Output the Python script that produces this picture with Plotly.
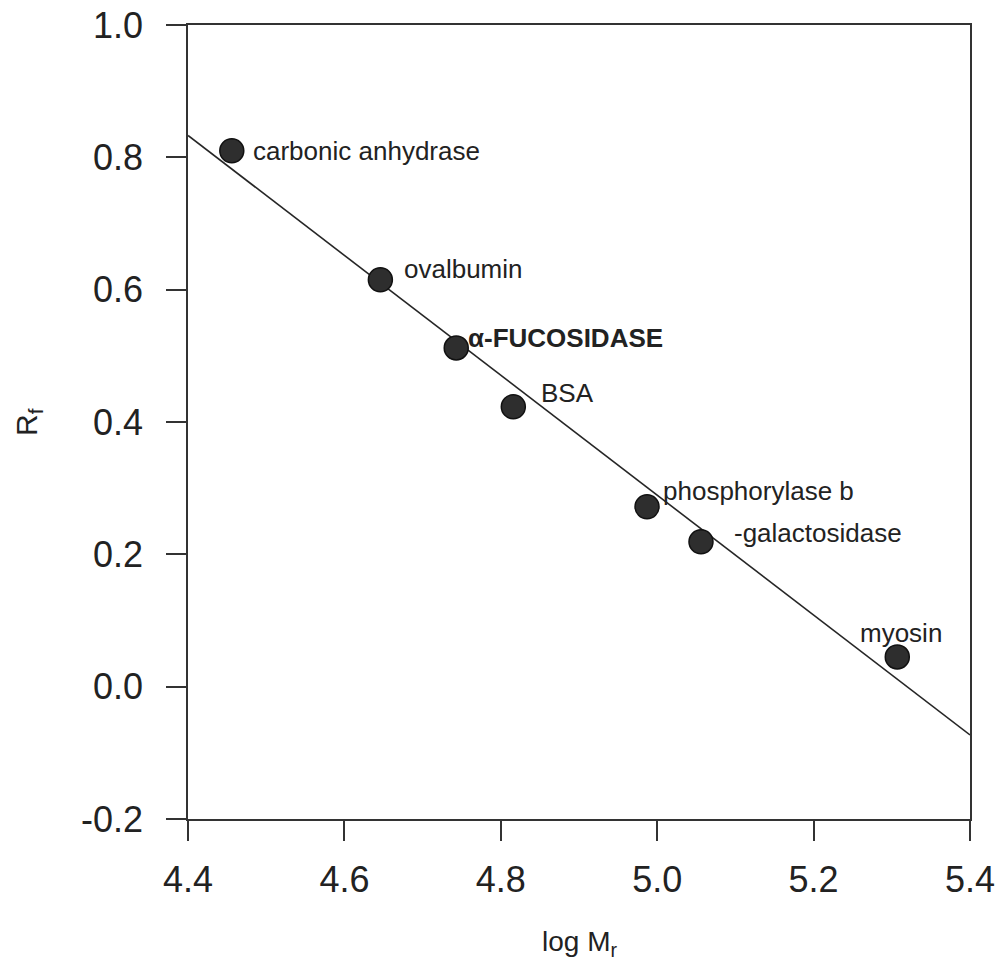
import plotly.graph_objects as go

# Data
proteins = ["carbonic anhydrase", "ovalbumin", "\u03b1-FUCOSIDASE", "BSA",
            "phosphorylase b", "-galactosidase", "myosin"]
log_mr = [4.456, 4.646, 4.743, 4.816, 4.987, 5.056, 5.307]
rf = [0.810, 0.615, 0.512, 0.423, 0.272, 0.219, 0.045]

fit_x = [4.4, 5.4]
fit_y = [0.833, -0.073]

x_ticks = [4.4, 4.6, 4.8, 5.0, 5.2, 5.4]
y_ticks = [-0.2, 0.0, 0.2, 0.4, 0.6, 0.8, 1.0]

# label offsets (pixels) relative to each point: (xshift, yshift, xanchor, bold)
label_style = [
    (19, 0, "left", False),
    (22, 11, "left", False),
    (10, 10, "left", True),
    (26, 14, "left", False),
    (14, 16, "left", False),
    (31, 9, "left", False),
    (4, 24, "center", False),
]

fig = go.Figure()
fig.add_trace(go.Scatter(x=fit_x, y=fit_y, mode="lines",
                         line=dict(color="#262626", width=1.6),
                         hoverinfo="skip", showlegend=False))
fig.add_trace(go.Scatter(x=log_mr, y=rf, mode="markers",
                         marker=dict(size=24, color="#2e2e2e",
                                     line=dict(color="#111111", width=1.5)),
                         showlegend=False))

for name, xv, yv, (dx, dy, anc, bold) in zip(proteins, log_mr, rf, label_style):
    fig.add_annotation(x=xv, y=yv, text=f"<b>{name}</b>" if bold else name,
                       showarrow=False, xanchor=anc, yanchor="middle",
                       xshift=dx, yshift=dy,
                       font=dict(family="Liberation Sans, Arial", size=26, color="#222222"))

axis_common = dict(
    showline=True, linecolor="#333333", linewidth=1.6, mirror=True,
    ticks="outside", ticklen=20, tickwidth=1.6, tickcolor="#333333",
    showgrid=False, zeroline=False, automargin=False,
    tickfont=dict(family="Liberation Sans, Arial", size=36, color="#222222"),
)

fig.update_xaxes(range=[4.4, 5.4], tickvals=x_ticks,
                 ticktext=[f"{v:.1f}" for v in x_ticks],
                 ticklabelstandoff=8, **axis_common)
fig.update_yaxes(range=[-0.2, 1.0], tickvals=y_ticks,
                 ticktext=[f"{v:.1f}" for v in y_ticks],
                 ticklabelstandoff=16, **axis_common)

fig.add_annotation(xref="paper", yref="paper", x=0.5, y=0, yshift=-124,
                   text="log M<sub>r</sub>", showarrow=False,
                   xanchor="center", yanchor="middle",
                   font=dict(family="Liberation Sans, Arial", size=28, color="#222222"))
fig.add_annotation(xref="paper", yref="paper", x=0, y=0.5, xshift=-160, yshift=0,
                   text="R<sub>f</sub>", showarrow=False, textangle=-90,
                   xanchor="center", yanchor="middle",
                   font=dict(family="Liberation Sans, Arial", size=30, color="#222222"))

fig.update_layout(width=1003, height=970,
                  margin=dict(l=188, r=33, t=25, b=151, pad=0, autoexpand=False),
                  plot_bgcolor="white", paper_bgcolor="white")

fig.write_html("out.html")
